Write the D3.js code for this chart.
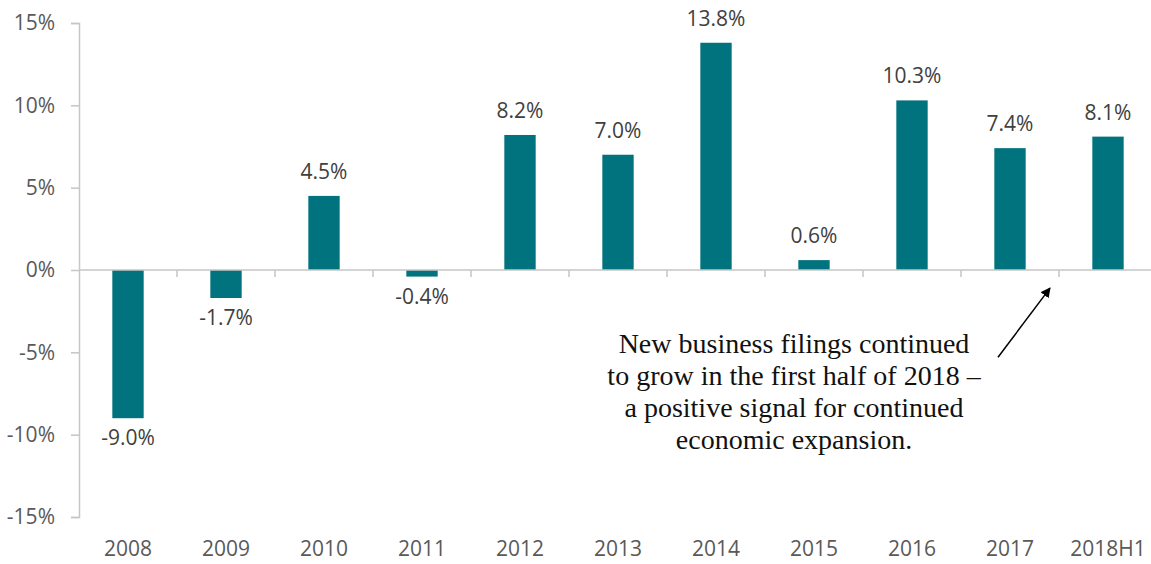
<!DOCTYPE html>
<html>
<head>
<meta charset="utf-8">
<script src="https://cdn.jsdelivr.net/npm/d3@7"></script>
<style>
  body { margin: 0; background: #fff; }
  svg { display: block; }
</style>
</head>
<body>
<div class="bar-chart"></div>
<script>
const years = ["2008", "2009", "2010", "2011", "2012", "2013", "2014", "2015", "2016", "2017", "2018H1"];
const growth = [-9.0, -1.7, 4.5, -0.4, 8.2, 7.0, 13.8, 0.6, 10.3, 7.4, 8.1];
const yTicks = [-15, -10, -5, 0, 5, 10, 15];
const noteLines = [
    "New business filings continued",
    "to grow in the first half of 2018 \u2013",
    "a positive signal for continued",
    "economic expansion."
];

const data = years.map((y, i) => ({year: y, value: growth[i]}));

const width = 1151, height = 564;
const margin = ({top: 23, right: -6, bottom: 47, left: 79});

const svg = d3.select(".bar-chart")
    .append("svg")
    .attr("width", width)
    .attr("height", height);

const xScale = d3.scaleBand()
    .domain(years)
    .range([margin.left, width - margin.right])
    .paddingInner(0.68)
    .paddingOuter(0.34);

const yScale = d3.scaleLinear()
    .domain([-15, 15])
    .range([height - margin.bottom, margin.top]);

const axisColor = "#c6c6c6";
const textColor = "#595959";
const font = "'Open Sans', sans-serif";
const fontSize = 21;

// y axis
const yAxis = d3.axisLeft(yScale)
    .tickValues(yTicks)
    .tickSize(8)
    .tickPadding(16)
    .tickFormat(d => d + "%");

svg.append("g")
    .attr("class", "axis y-axis")
    .attr("transform", `translate(${margin.left},0)`)
    .call(yAxis)
    .call(g => g.selectAll("path, line").attr("stroke", axisColor).attr("stroke-width", 1.5))
    .call(g => g.selectAll("text")
        .attr("fill", textColor)
        .attr("font-family", font)
        .attr("font-size", fontSize));

// bars
svg.selectAll("rect.bar")
    .data(data)
    .join("rect")
    .attr("class", "bar")
    .attr("x", d => xScale(d.year))
    .attr("width", xScale.bandwidth())
    .attr("y", d => yScale(Math.max(0, d.value)))
    .attr("height", d => Math.abs(yScale(d.value) - yScale(0)))
    .attr("fill", "#00737e");

// zero line with category boundary ticks
const step = xScale.step();
const boundaries = d3.range(1, years.length + 1).map(i => margin.left + i * step);

const zero = svg.append("g").attr("class", "axis x-axis");
zero.append("line")
    .attr("x1", margin.left)
    .attr("x2", width)
    .attr("y1", yScale(0))
    .attr("y2", yScale(0))
    .attr("stroke", axisColor)
    .attr("stroke-width", 1.5);
zero.selectAll("line.tick")
    .data(boundaries)
    .join("line")
    .attr("class", "tick")
    .attr("x1", d => d)
    .attr("x2", d => d)
    .attr("y1", yScale(0))
    .attr("y2", yScale(0) + 7)
    .attr("stroke", axisColor)
    .attr("stroke-width", 1.5);

// category labels at the bottom
svg.selectAll("text.cat")
    .data(years)
    .join("text")
    .attr("class", "cat")
    .attr("x", d => xScale(d) + xScale.bandwidth() / 2)
    .attr("y", height - 8)
    .attr("text-anchor", "middle")
    .attr("fill", textColor)
    .attr("font-family", font)
    .attr("font-size", fontSize)
    .text(d => d);

// value labels
svg.selectAll("text.val")
    .data(data)
    .join("text")
    .attr("class", "val")
    .attr("x", d => xScale(d.year) + xScale.bandwidth() / 2)
    .attr("y", d => d.value >= 0 ? yScale(d.value) - 17 : yScale(d.value) + 27)
    .attr("text-anchor", "middle")
    .attr("fill", "#404040")
    .attr("font-family", font)
    .attr("font-size", fontSize)
    .text(d => d.value.toFixed(1) + "%");

// annotation
const noteX = 794;
svg.append("text")
    .attr("font-family", "'Liberation Serif', serif")
    .attr("font-size", 28)
    .attr("fill", "#111")
    .attr("text-anchor", "middle")
    .selectAll("tspan")
    .data(noteLines)
    .join("tspan")
    .attr("x", noteX)
    .attr("y", (d, i) => yScale(-5.05) + i * 32)
    .text(d => d);

svg.append("defs").append("marker")
    .attr("id", "arrow")
    .attr("viewBox", "0 0 10 10")
    .attr("refX", 9)
    .attr("refY", 5)
    .attr("markerWidth", 10)
    .attr("markerHeight", 10)
    .attr("markerUnits", "userSpaceOnUse")
    .attr("orient", "auto")
    .append("path")
    .attr("d", "M0,0L10,5L0,10z")
    .attr("fill", "#000");

svg.append("line")
    .attr("x1", 998)
    .attr("y1", yScale(-5.3))
    .attr("x2", 1050)
    .attr("y2", yScale(-1.1))
    .attr("stroke", "#000")
    .attr("stroke-width", 1.5)
    .attr("marker-end", "url(#arrow)");
</script>
</body>
</html>
